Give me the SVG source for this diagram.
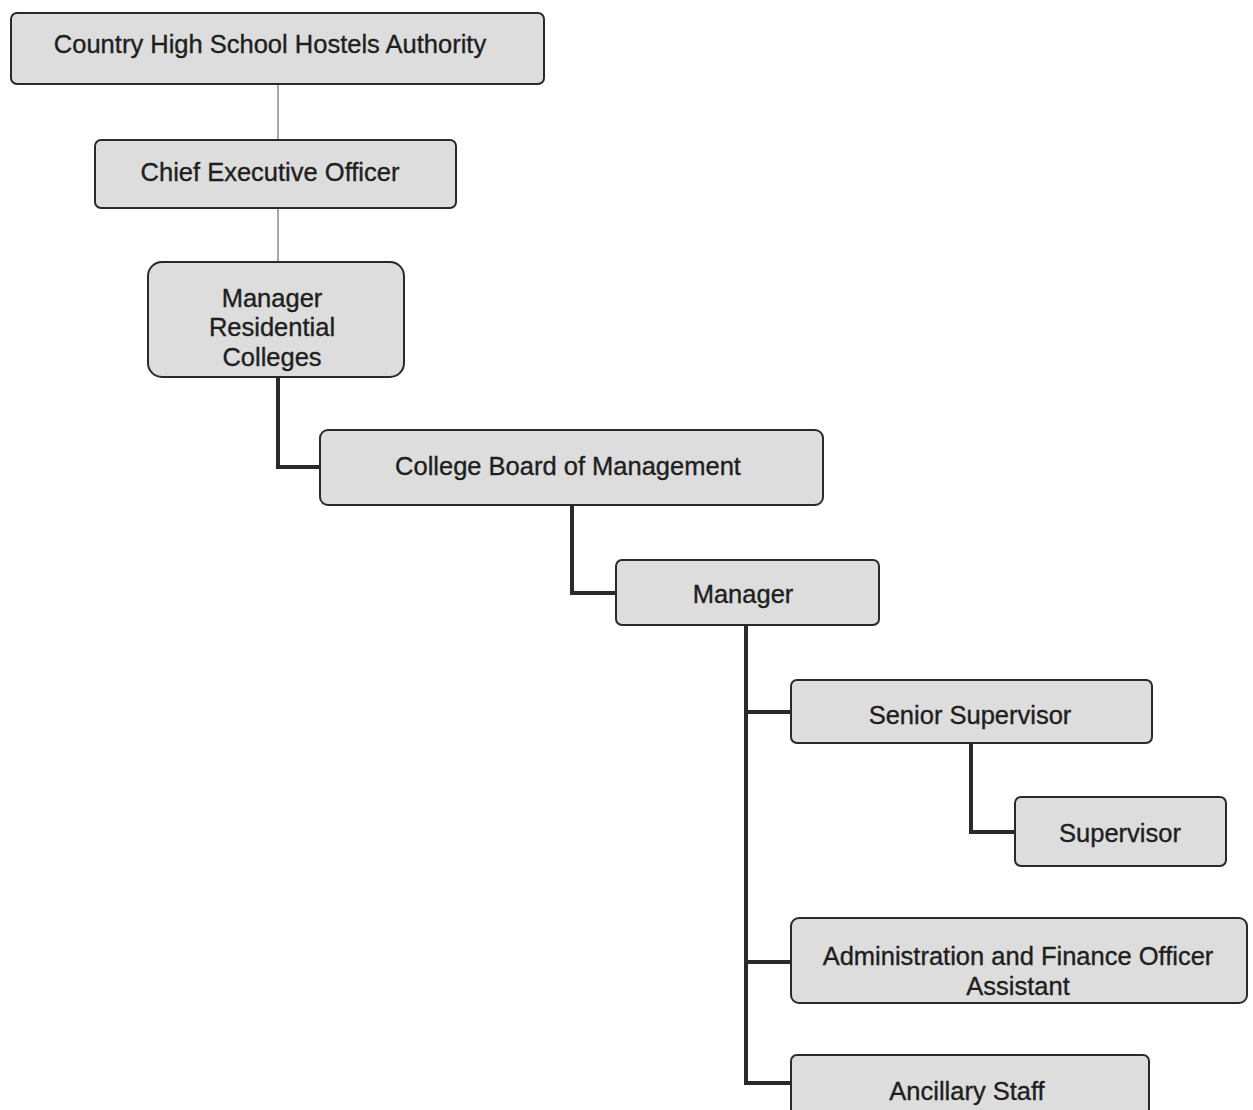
<svg xmlns="http://www.w3.org/2000/svg" width="1253" height="1110" viewBox="0 0 1253 1110">
<style>
.box{fill:#dddddd;stroke:#2a2a2a;stroke-width:2}
.t{font-family:"Liberation Sans",Arial,sans-serif;font-size:25.5px;fill:#1e1e1e;stroke:#1e1e1e;stroke-width:0.35;text-anchor:middle}
.thin{stroke:#555;stroke-width:1;fill:none}
.thick{stroke:#2a2a2a;stroke-width:4;fill:none}
</style>
<rect width="1253" height="1110" fill="#ffffff"/>
<g id="connectors">
<path class="thin" d="M278 84V140"/>
<path class="thin" d="M278 208V262"/>
<path class="thick" d="M278 377V467H320"/>
<path class="thick" d="M572 505V593H616"/>
<path class="thick" d="M746 625V1083H791M746 712H791M746 962H791"/>
<path class="thick" d="M971 743V832H1015"/>
</g>
<g id="n1"><rect class="box" x="11" y="13" width="533" height="71" rx="6"/><text class="t" x="270" y="53">Country High School Hostels Authority</text></g>
<g id="n2"><rect class="box" x="95" y="140" width="361" height="68" rx="6"/><text class="t" x="270" y="181">Chief Executive Officer</text></g>
<g id="n3"><rect class="box" x="148" y="262" width="256" height="115" rx="14"/><text class="t" x="272" y="307">Manager</text><text class="t" x="272" y="336">Residential</text><text class="t" x="272" y="366">Colleges</text></g>
<g id="n4"><rect class="box" x="320" y="430" width="503" height="75" rx="8"/><text class="t" x="568" y="475">College Board of Management</text></g>
<g id="n5"><rect class="box" x="616" y="560" width="263" height="65" rx="6"/><text class="t" x="743" y="603">Manager</text></g>
<g id="n6"><rect class="box" x="791" y="680" width="361" height="63" rx="6"/><text class="t" x="970" y="724">Senior Supervisor</text></g>
<g id="n7"><rect class="box" x="1015" y="797" width="211" height="69" rx="6"/><text class="t" x="1120" y="842">Supervisor</text></g>
<g id="n8"><rect class="box" x="791" y="918" width="456" height="85" rx="8"/><text class="t" x="1018" y="965">Administration and Finance Officer</text><text class="t" x="1018" y="995">Assistant</text></g>
<g id="n9"><rect class="box" x="791" y="1055" width="358" height="62" rx="6"/><text class="t" x="967" y="1100">Ancillary Staff</text></g>
</svg>
